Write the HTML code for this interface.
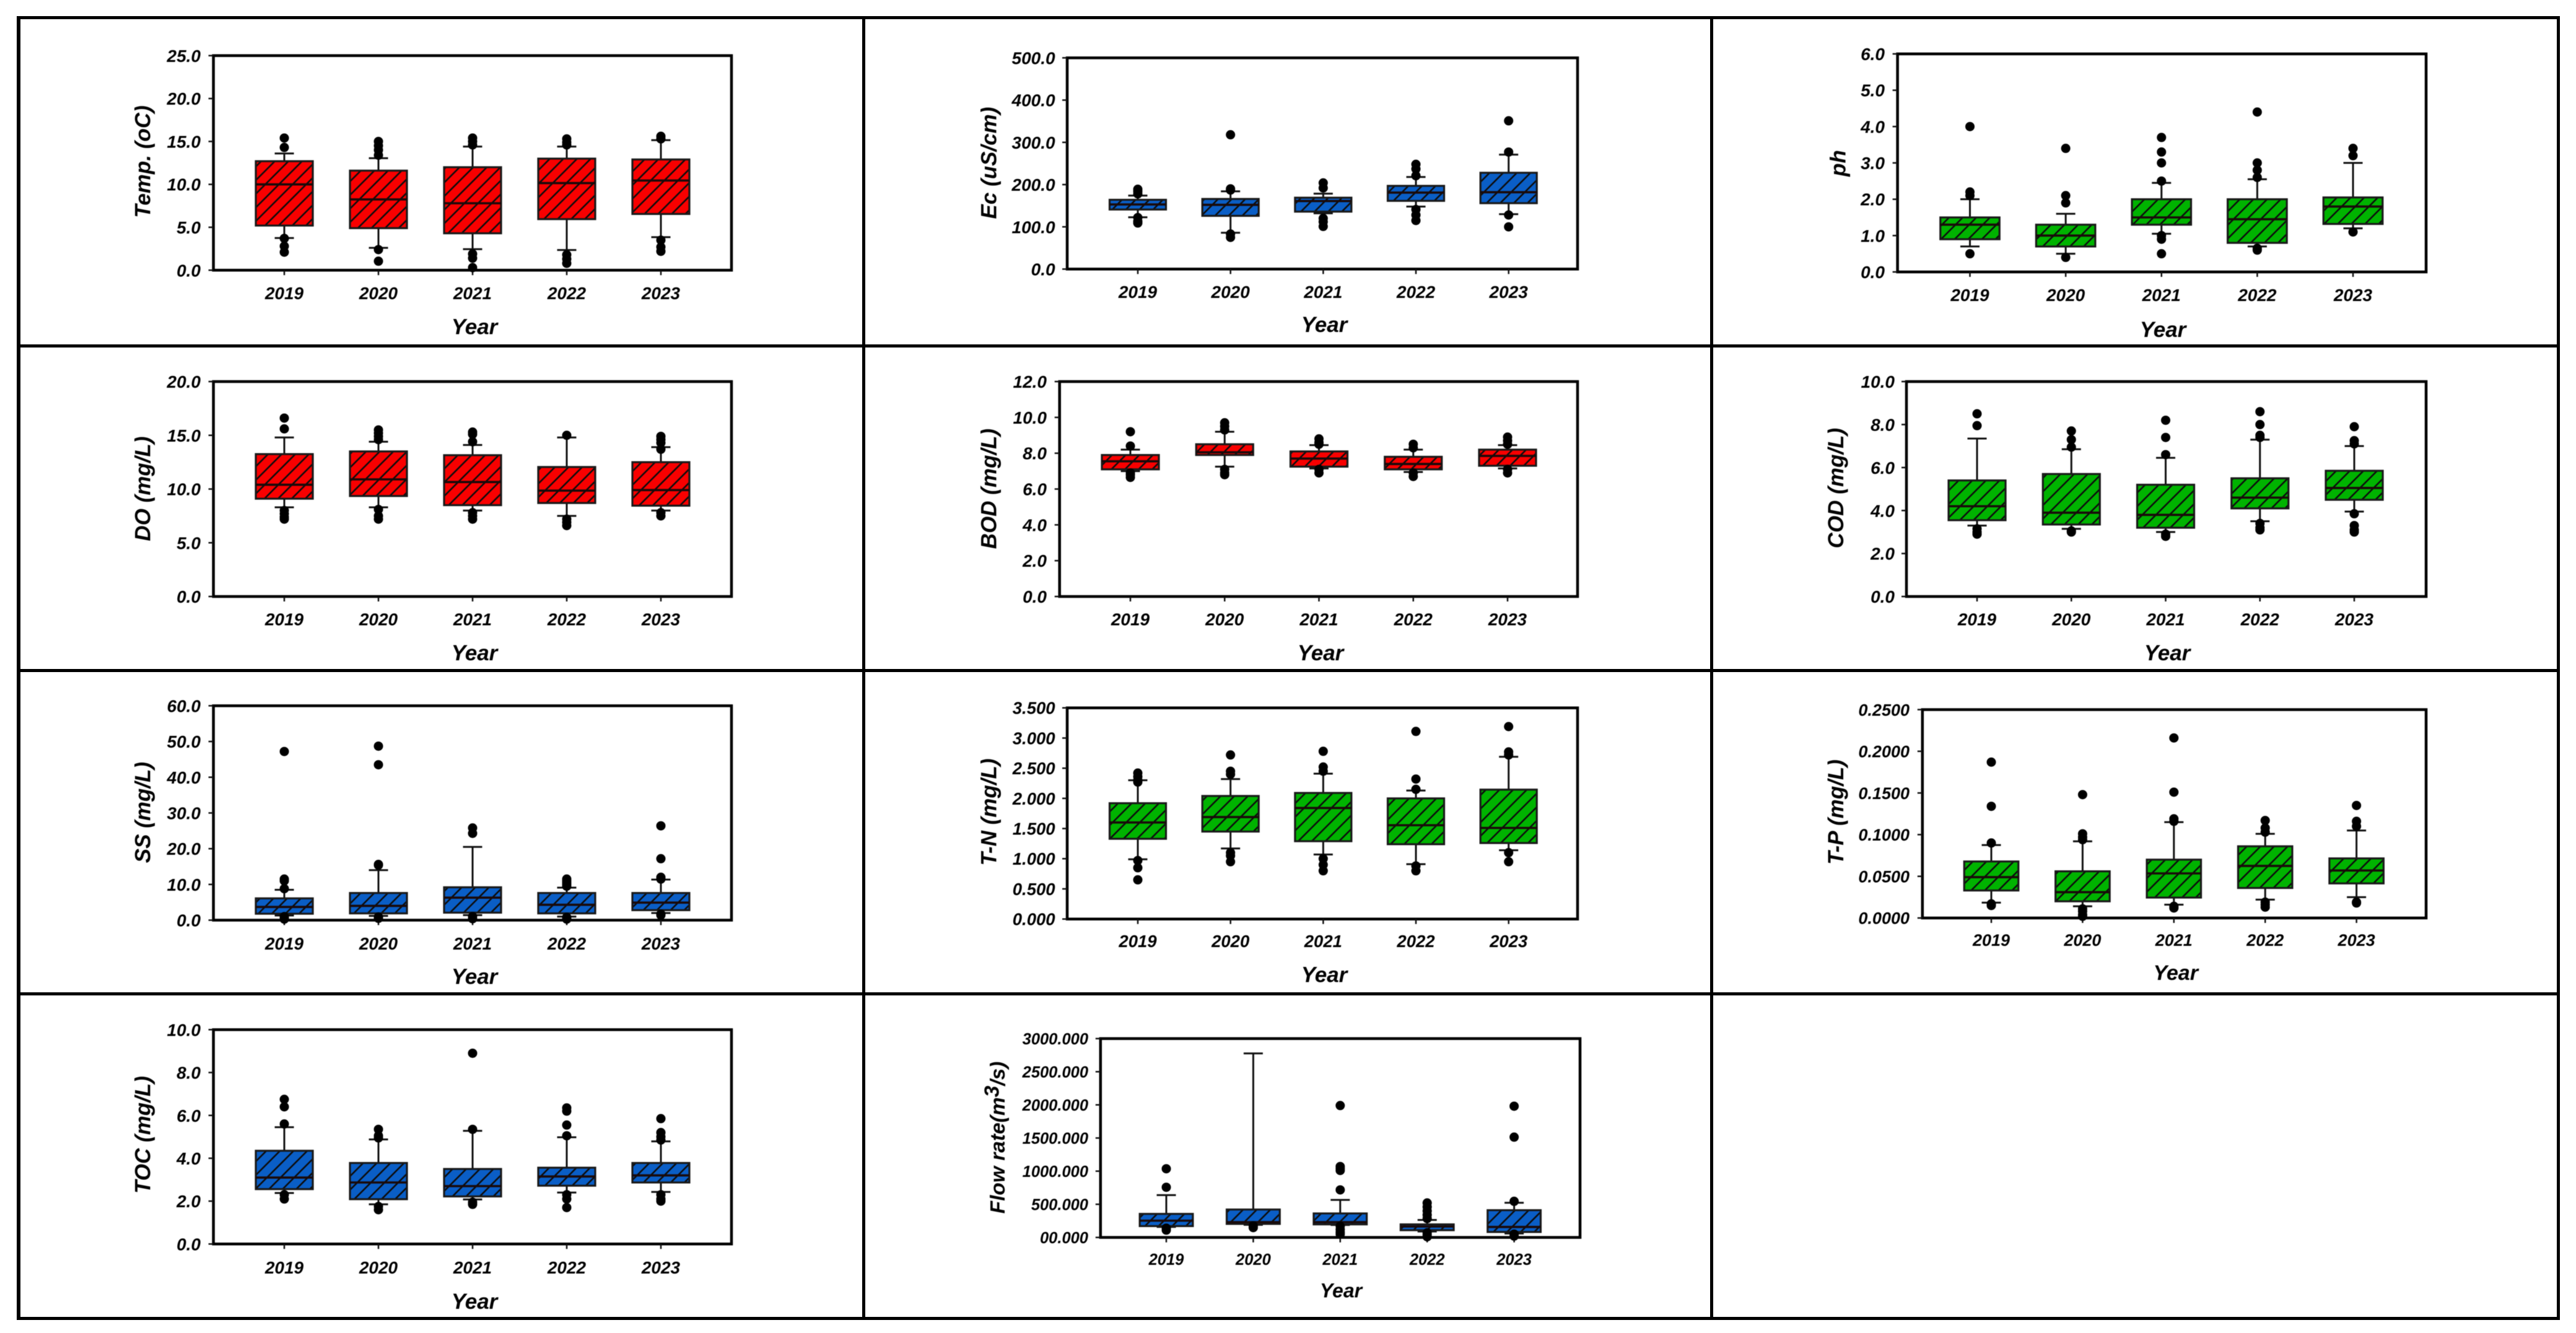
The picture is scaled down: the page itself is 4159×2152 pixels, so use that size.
<!DOCTYPE html>
<html lang="en">
<head>
<meta charset="utf-8">
<title>Water quality box plots 2019-2023</title>
<style>
html,body{margin:0;padding:0;background:#fff;}
body{width:4159px;height:2152px;overflow:hidden;}
svg{display:block;font-family:"Liberation Sans",Arial,sans-serif;}
#charts{filter:blur(0.6px);}
</style>
</head>
<body>
<svg id="figure" xmlns="http://www.w3.org/2000/svg" width="4159" height="2152" viewBox="0 0 4159 2152">
<defs>
<pattern id="hatch" patternUnits="userSpaceOnUse" width="22" height="22">
<path d="M-5,5 L5,-5 M0,22 L22,0 M17,27 L27,17" stroke="#0d0d0d" stroke-width="2.6" fill="none"/>
</pattern>
</defs>
<rect x="0" y="0" width="4159" height="2152" fill="#fff"/>
<g fill="#000">
<rect x="27" y="26" width="4106" height="5"/>
<rect x="27" y="556" width="4106" height="5"/>
<rect x="27" y="1080" width="4106" height="5"/>
<rect x="27" y="1602" width="4106" height="5"/>
<rect x="27" y="2126" width="4106" height="5"/>
<rect x="27" y="26" width="6" height="2105"/>
<rect x="1392" y="26" width="5" height="2105"/>
<rect x="2761" y="26" width="5" height="2105"/>
<rect x="4128" y="26" width="5" height="2105"/>
</g>
<g id="charts"></g>
</svg>
<script>
const years = ['2019','2020','2021','2022','2023'];

const tempTicks = ['0.0','5.0','10.0','15.0','20.0','25.0'];
const tempQ1 = [5.2,4.9,4.3,5.95,6.55];
const tempMedian = [10.0,8.25,7.8,10.15,10.45];
const tempQ3 = [12.7,11.6,12.0,13.0,12.9];
const tempLow = [3.75,2.6,2.45,2.35,3.85];
const tempHigh = [13.6,13.05,14.4,14.4,15.15];
const tempOutliers = [[15.4,14.3,3.7,2.8,2.1],[15.0,14.5,14.0,13.4,2.4,1.05],[15.4,15.0,14.6,1.9,1.4,0.3],[15.3,14.9,14.6,1.8,1.3,0.8],[15.6,15.3,3.5,2.7,2.2]];

const ecTicks = ['0.0','100.0','200.0','300.0','400.0','500.0'];
const ecQ1 = [141,126,136,161.5,156];
const ecMedian = [153,152,161,181,182];
const ecQ3 = [164,166,169,197,228];
const ecLow = [122.6,86,132,148,130];
const ecHigh = [174,184,178.6,218,271];
const ecOutliers = [[189,184,178,122,113,109],[318,190,187,83,75],[204,192,120,112,101],[248,237,221,141,128,115],[351,277,128,100]];

const phTicks = ['0.0','1.0','2.0','3.0','4.0','5.0','6.0'];
const phQ1 = [0.9,0.7,1.3,0.8,1.32];
const phMedian = [1.3,1.0,1.5,1.45,1.8];
const phQ3 = [1.5,1.3,2.0,2.0,2.05];
const phLow = [0.7,0.5,1.05,0.7,1.2];
const phHigh = [2.0,1.6,2.45,2.55,3.0];
const phOutliers = [[4.0,2.2,2.1,0.5],[3.4,2.1,1.9,0.4],[3.7,3.3,3.0,2.5,1.0,0.9,0.5],[4.4,3.0,2.8,2.6,0.65,0.6],[3.4,3.2,1.1]];

const doTicks = ['0.0','5.0','10.0','15.0','20.0'];
const doQ1 = [9.1,9.35,8.5,8.7,8.45];
const doMedian = [10.4,10.9,10.65,9.85,9.9];
const doQ3 = [13.25,13.5,13.15,12.05,12.5];
const doLow = [8.3,8.3,8.0,7.5,8.0];
const doHigh = [14.8,14.4,14.1,14.8,13.9];
const doOutliers = [[16.6,15.6,8.0,7.7,7.4,7.2],[15.5,15.2,14.9,14.6,8.1,7.5,7.2],[15.3,15.1,14.4,7.8,7.5,7.2],[15.0,7.2,6.9,6.6],[14.9,14.6,14.3,13.7,7.8,7.5]];

const bodTicks = ['0.0','2.0','4.0','6.0','8.0','10.0','12.0'];
const bodQ1 = [7.1,7.9,7.25,7.1,7.3];
const bodMedian = [7.55,8.05,7.7,7.4,7.85];
const bodQ3 = [7.9,8.5,8.1,7.8,8.2];
const bodLow = [7.0,7.25,7.15,6.95,7.15];
const bodHigh = [8.2,9.2,8.45,8.2,8.45];
const bodOutliers = [[9.2,8.4,6.9,6.8,6.65],[9.7,9.5,9.3,7.1,6.9,6.8],[8.8,8.6,8.5,7.1,6.9],[8.5,8.3,6.9,6.7],[8.9,8.7,8.5,7.1,6.9]];

const codTicks = ['0.0','2.0','4.0','6.0','8.0','10.0'];
const codQ1 = [3.55,3.35,3.2,4.1,4.5];
const codMedian = [4.2,3.9,3.8,4.6,5.05];
const codQ3 = [5.4,5.7,5.2,5.5,5.85];
const codLow = [3.3,3.15,3.0,3.5,3.95];
const codHigh = [7.35,6.85,6.45,7.3,7.0];
const codOutliers = [[8.5,7.95,3.15,3.0,2.9],[7.7,7.3,6.95,3.05,3.0],[8.2,7.4,6.6,2.9,2.8],[8.6,8.0,7.5,7.4,3.4,3.2,3.1],[7.9,7.25,7.1,3.85,3.3,3.1,3.0]];

const ssTicks = ['0.0','10.0','20.0','30.0','40.0','50.0','60.0'];
const ssQ1 = [1.8,1.9,2.1,1.9,2.8];
const ssMedian = [3.7,4.0,6.3,4.3,4.9];
const ssQ3 = [6.1,7.6,9.2,7.6,7.6];
const ssLow = [1.3,1.2,1.4,1.0,2.0];
const ssHigh = [8.5,14,20.5,9.1,11.35];
const ssOutliers = [[47.2,11.5,11.0,8.8,1.0,0.6,0.3],[48.7,43.5,15.6,15.4,0.9,0.5],[25.8,24.3,1.0,0.4],[11.5,11,10.5,10,9.5,0.8,0.3],[26.4,17.2,12,11.5,1.7,1.4]];

const tnTicks = ['0.000','0.500','1.000','1.500','2.000','2.500','3.000','3.500'];
const tnQ1 = [1.33,1.45,1.29,1.24,1.26];
const tnMedian = [1.6,1.69,1.84,1.555,1.51];
const tnQ3 = [1.92,2.04,2.09,2.0,2.145];
const tnLow = [0.99,1.17,1.07,0.91,1.14];
const tnHigh = [2.3,2.32,2.41,2.13,2.69];
const tnOutliers = [[2.42,2.36,2.3,2.27,0.97,0.85,0.65],[2.72,2.45,2.4,1.1,1.05,0.95],[2.78,2.52,2.45,1.0,0.9,0.8],[3.11,2.32,2.15,0.88,0.8],[3.19,2.77,2.72,1.1,0.95]];

const tpTicks = ['0.0000','0.0500','0.1000','0.1500','0.2000','0.2500'];
const tpQ1 = [0.033,0.02,0.0245,0.036,0.0415];
const tpMedian = [0.049,0.031,0.0535,0.0625,0.057];
const tpQ3 = [0.0678,0.056,0.07,0.086,0.0715];
const tpLow = [0.0184,0.014,0.016,0.022,0.025];
const tpHigh = [0.0875,0.092,0.115,0.101,0.105];
const tpOutliers = [[0.187,0.134,0.09,0.017,0.015],[0.148,0.101,0.097,0.094,0.011,0.008,0.004,0.002],[0.216,0.151,0.119,0.116,0.014,0.012],[0.117,0.108,0.103,0.019,0.016,0.013],[0.135,0.116,0.11,0.019,0.018]];

const tocTicks = ['0.0','2.0','4.0','6.0','8.0','10.0'];
const tocQ1 = [2.56,2.09,2.22,2.72,2.87];
const tocMedian = [3.1,2.87,2.7,3.15,3.2];
const tocQ3 = [4.35,3.78,3.5,3.56,3.78];
const tocLow = [2.38,1.85,2.08,2.4,2.43];
const tocHigh = [5.45,4.88,5.28,4.98,4.79];
const tocOutliers = [[6.75,6.4,5.6,2.3,2.1],[5.35,5.05,4.95,1.75,1.6],[8.9,5.35,1.95,1.85],[6.35,6.2,5.55,5.05,2.3,2.1,1.7],[5.85,5.2,5.0,4.85,2.3,2.1,2.0]];

const flowTicks = ['00.000','500.000','1000.000','1500.000','2000.000','2500.000','3000.000'];
const flowQ1 = [171,204,197,109,82];
const flowMedian = [253,230,230,165,158];
const flowQ3 = [355,421,362,197,411];
const flowLow = [158,190,188,89,59];
const flowHigh = [638,2776,566,263,523];
const flowOutliers = [[1036,757,140,110],[175,148],[1990,1070,1040,1010,717,170,120,80,50],[520,460,400,340,285,70,40,10],[1980,1513,545,50,20]];

const RED = '#f80000';
const BLUE = '#0a5ec6';
const GREEN = '#00b300';

const panels = [
 {key:'temp',title:'Temp. (oC)',color:RED,ticks:tempTicks,q1:tempQ1,med:tempMedian,q3:tempQ3,lo:tempLow,hi:tempHigh,out:tempOutliers,
  frame:{l:344.6,r:1181,t:89.8,b:436.2,c0:459,c4:1067,bw:92,tickR:324,titleX:230,titleY:261,yearY:473,xtX:766,xtY:527,fs:28,ytFs:35,xtFs:35}},
 {key:'ec',title:'Ec (uS/cm)',color:BLUE,ticks:ecTicks,q1:ecQ1,med:ecMedian,q3:ecQ3,lo:ecLow,hi:ecHigh,out:ecOutliers,
  frame:{l:1723,r:2547,t:93.4,b:434.4,c0:1837,c4:2435.7,bw:91,tickR:1703.6,titleX:1596,titleY:263,yearY:471,xtX:2138,xtY:523.5,fs:28,ytFs:35,xtFs:35}},
 {key:'ph',title:'ph',color:GREEN,ticks:phTicks,q1:phQ1,med:phMedian,q3:phQ3,lo:phLow,hi:phHigh,out:phOutliers,
  frame:{l:3063.6,r:3917,t:87,b:439,c0:3180.5,c4:3799,bw:95.5,tickR:3043,titleX:2967,titleY:263.5,yearY:476,xtX:3492,xtY:531.5,fs:28,ytFs:35,xtFs:35}},
 {key:'do',title:'DO (mg/L)',color:RED,ticks:doTicks,q1:doQ1,med:doMedian,q3:doQ3,lo:doLow,hi:doHigh,out:doOutliers,
  frame:{l:344.6,r:1181,t:616,b:963,c0:459,c4:1067,bw:92,tickR:324,titleX:230,titleY:789,yearY:999.4,xtX:766,xtY:1053.5,fs:28,ytFs:35,xtFs:35}},
 {key:'bod',title:'BOD (mg/L)',color:RED,ticks:bodTicks,q1:bodQ1,med:bodMedian,q3:bodQ3,lo:bodLow,hi:bodHigh,out:bodOutliers,
  frame:{l:1710.7,r:2547,t:616,b:963,c0:1825,c4:2434,bw:92,tickR:1690,titleX:1596,titleY:789,yearY:999.4,xtX:2132,xtY:1053.5,fs:28,ytFs:35,xtFs:35}},
 {key:'cod',title:'COD (mg/L)',color:GREEN,ticks:codTicks,q1:codQ1,med:codMedian,q3:codQ3,lo:codLow,hi:codHigh,out:codOutliers,
  frame:{l:3078,r:3917,t:616,b:963,c0:3192,c4:3801,bw:92,tickR:3059,titleX:2963.6,titleY:788,yearY:999.4,xtX:3499,xtY:1053.5,fs:28,ytFs:35,xtFs:35}},
 {key:'ss',title:'SS (mg/L)',color:BLUE,ticks:ssTicks,q1:ssQ1,med:ssMedian,q3:ssQ3,lo:ssLow,hi:ssHigh,out:ssOutliers,
  frame:{l:344.6,r:1181,t:1139.4,b:1485.5,c0:459,c4:1067,bw:92,tickR:324,titleX:230,titleY:1311.6,yearY:1522.7,xtX:766,xtY:1576,fs:28,ytFs:35,xtFs:35}},
 {key:'tn',title:'T-N (mg/L)',color:GREEN,ticks:tnTicks,q1:tnQ1,med:tnMedian,q3:tnQ3,lo:tnLow,hi:tnHigh,out:tnOutliers,
  frame:{l:1723,r:2547,t:1142.8,b:1483.7,c0:1837,c4:2435.7,bw:91,tickR:1703.6,titleX:1596,titleY:1311,yearY:1519,xtX:2138,xtY:1573,fs:27.5,ytFs:35,xtFs:35}},
 {key:'tp',title:'T-P (mg/L)',color:GREEN,ticks:tpTicks,q1:tpQ1,med:tpMedian,q3:tpQ3,lo:tpLow,hi:tpHigh,out:tpOutliers,
  frame:{l:3103.8,r:3917,t:1145.6,b:1482,c0:3215,c4:3804.6,bw:87.5,tickR:3083,titleX:2963.6,titleY:1311,yearY:1517.5,xtX:3512.7,xtY:1570,fs:27,ytFs:35,xtFs:34}},
 {key:'toc',title:'TOC (mg/L)',color:BLUE,ticks:tocTicks,q1:tocQ1,med:tocMedian,q3:tocQ3,lo:tocLow,hi:tocHigh,out:tocOutliers,
  frame:{l:344.6,r:1181,t:1662.3,b:2008.3,c0:459,c4:1067,bw:92,tickR:324,titleX:230,titleY:1832,yearY:2046,xtX:766,xtY:2100.6,fs:28,ytFs:35,xtFs:35}},
 {key:'flow',title:'Flow rate(m',titleSup:'3',titleEnd:'/s)',color:BLUE,ticks:flowTicks,q1:flowQ1,med:flowMedian,q3:flowQ3,lo:flowLow,hi:flowHigh,out:flowOutliers,
  frame:{l:1776.8,r:2551,t:1676.7,b:1997.7,c0:1883,c4:2444.6,bw:85.7,tickR:1757,titleX:1610,titleY:1836.5,yearY:2033,xtX:2165,xtY:2083,fs:25.5,ytFs:33.5,xtFs:32}}
];

const SVGNS = 'http://www.w3.org/2000/svg';
function mk(tag, attrs, parent){
  const el = document.createElementNS(SVGNS, tag);
  for (const k in attrs) el.setAttribute(k, attrs[k]);
  if (parent) parent.appendChild(el);
  return el;
}

const root = document.getElementById('charts');
const INK = '#111';

panels.forEach(function(p){
  const f = p.frame;
  const yMax = Math.max.apply(null, p.ticks.map(parseFloat));
  const yScale = function(v){ return f.b - (v / yMax) * (f.b - f.t); };
  const xScale = function(i){ return f.c0 + i * (f.c4 - f.c0) / (years.length - 1); };

  const g = mk('g', {}, root);
  
  

  const plot = mk('rect', {x:f.l, y:f.t, width:f.r - f.l, height:f.b - f.t, fill:'none', stroke:'#000', 'stroke-width':4.5}, g);
  
  

  p.ticks.forEach(function(label){
    const v = parseFloat(label);
    const y = yScale(v);
    const tick = mk('line', {x1:f.l - 8, x2:f.l, y1:y, y2:y, stroke:INK, 'stroke-width':2.5}, g);
    
    
    const t = mk('text', {x:f.tickR, y:y, dy:'.36em', 'text-anchor':'end', 'font-size':f.fs, 'font-weight':'bold', 'font-style':'italic', fill:'#000'}, g);
    
    
    t.textContent = label;
  });

  const yt = mk('text', {transform:'translate(' + f.titleX + ',' + f.titleY + ') rotate(-90)', dy:'.36em', 'text-anchor':'middle', 'font-size':f.ytFs, 'font-weight':'bold', 'font-style':'italic', fill:'#000', 'xml:space':'preserve'}, g);
  
  
  if (p.titleSup) {
    mk('tspan', {}, yt).textContent = p.title;
    mk('tspan', {dy:'-.28em'}, yt).textContent = p.titleSup;
    mk('tspan', {dy:'.28em'}, yt).textContent = p.titleEnd;
  } else {
    yt.textContent = p.title;
  }

  const xt = mk('text', {x:f.xtX, y:f.xtY, dy:'.36em', 'text-anchor':'middle', 'font-size':f.xtFs, 'font-weight':'bold', 'font-style':'italic', fill:'#000'}, g);
  
  
  xt.textContent = 'Year';

  years.forEach(function(year, i){
    const cx = xScale(i);
    const bg = mk('g', {}, g);
    
    

    const tick = mk('line', {x1:cx, x2:cx, y1:f.b, y2:f.b + 8, stroke:INK, 'stroke-width':2.5}, bg);
    
    

    const yl = mk('text', {x:cx, y:f.yearY, dy:'.36em', 'text-anchor':'middle', 'font-size':f.fs, 'font-weight':'bold', 'font-style':'italic', fill:'#000'}, bg);
    
    
    yl.textContent = year;

    const whisker = mk('line', {x1:cx, x2:cx, y1:yScale(p.lo[i]), y2:yScale(p.hi[i]), stroke:INK, 'stroke-width':3}, bg);
    
    

    [p.lo[i], p.hi[i]].forEach(function(v){
      const cap = mk('line', {x1:cx - 15.5, x2:cx + 15.5, y1:yScale(v), y2:yScale(v), stroke:INK, 'stroke-width':3}, bg);
      
      
    });

    const bx = cx - f.bw / 2;
    const by = yScale(p.q3[i]);
    const bh = yScale(p.q1[i]) - by;
    const fill = mk('rect', {x:bx, y:by, width:f.bw, height:bh, fill:p.color}, bg);
    
    
    const hatch = mk('rect', {x:bx, y:by, width:f.bw, height:bh, fill:'url(#hatch)', stroke:'#1a1a1a', 'stroke-width':3.2}, bg);
    
    

    const median = mk('line', {x1:bx, x2:bx + f.bw, y1:yScale(p.med[i]), y2:yScale(p.med[i]), stroke:'#1a0a0a', 'stroke-width':3.6}, bg);
    
    

    p.out[i].forEach(function(v){
      const c = mk('circle', {cx:cx, cy:yScale(v), r:7.5, fill:'#000'}, bg);
      
      
    });
  });
});
</script>
</body>
</html>
